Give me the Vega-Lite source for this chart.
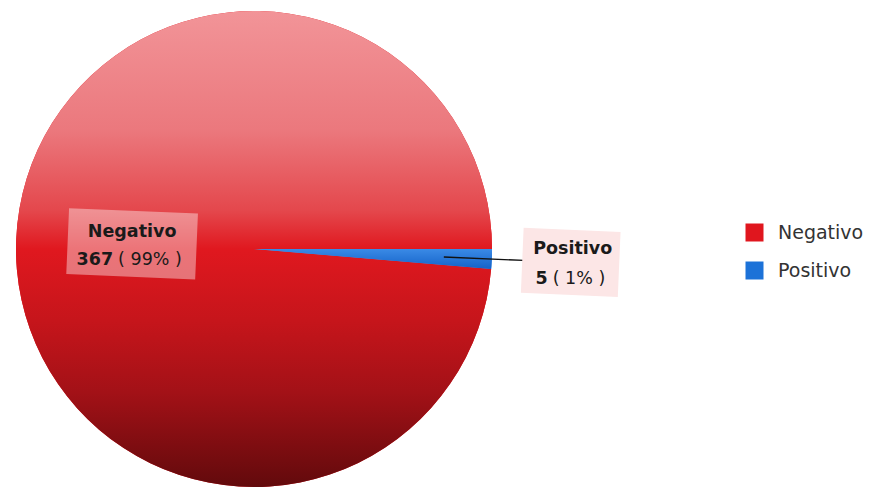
{
  "$schema": "https://vega.github.io/schema/vega-lite/v6.json",
  "width": 508,
  "height": 498,
  "autosize": {"type": "none"},
  "padding": {"left": 0, "top": 0, "right": 368, "bottom": 0},
  "background": "white",
  "config": {
    "view": {"stroke": null},
    "legend": {
      "orient": "none",
      "legendX": 745,
      "legendY": 223,
      "symbolType": "square",
      "symbolSize": 324,
      "symbolStrokeWidth": 0,
      "labelFont": "DejaVu Sans",
      "labelFontSize": 19,
      "labelColor": "#333333",
      "rowPadding": 18,
      "labelOffset": 14
    }
  },
  "data": {
    "values": [
      {"cat": "Negativo", "value": 367, "pct": 99, "ord": 2},
      {"cat": "Positivo", "value": 5, "pct": 1, "ord": 1}
    ]
  },
  "transform": [
    {"stack": "value", "groupby": [], "sort": [{"field": "ord", "order": "ascending"}], "as": ["v0", "v1"]},
    {"calculate": "(datum.v0 + datum.v1) / 2", "as": "mid"},
    {"calculate": "'( ' + datum.pct + '% )'", "as": "pctLabel"}
  ],
  "resolve": {"scale": {"theta": "shared"}},
  "layer": [
    {
      "mark": {"type": "arc", "radius": 238},
      "encoding": {
        "theta": {"field": "v0", "type": "quantitative", "stack": null, "scale": {"domain": [0, 372], "range": [1.5707963, 7.8539816]}},
        "theta2": {"field": "v1"},
        "color": {
          "field": "cat", "type": "nominal",
          "scale": {"domain": ["Negativo", "Positivo"], "range": ["#E0161E", "#1C72D8"]},
          "legend": {"title": null}
        }
      }
    },
    {
      "mark": {"type": "arc", "radius": 238},
      "encoding": {
        "theta": {"field": "v0", "type": "quantitative", "stack": null, "scale": {"domain": [0, 372], "range": [1.5707963, 7.8539816]}},
        "theta2": {"field": "v1"},
        "fill": {
          "condition": {
            "test": "datum.cat === 'Negativo'",
            "value": {
              "gradient": "linear", "x1": 0, "y1": 0, "x2": 0, "y2": 1,
              "stops": [
                {"offset": 0, "color": "#F29498"},
                {"offset": 0.25, "color": "#EB787D"},
                {"offset": 0.42, "color": "#E4474C"},
                {"offset": 0.5, "color": "#E0181F"},
                {"offset": 0.65, "color": "#C6151B"},
                {"offset": 0.8, "color": "#A31117"},
                {"offset": 1, "color": "#620A0C"}
              ]
            }
          },
          "value": {
            "gradient": "linear", "x1": 0, "y1": 0, "x2": 0, "y2": 1,
            "stops": [
              {"offset": 0, "color": "#3A8AE6"},
              {"offset": 1, "color": "#1462C8"}
            ]
          }
        }
      }
    },
    {
      "transform": [{"filter": "datum.cat === 'Positivo'"}],
      "mark": {"type": "arc", "radius": 270, "radius2": 190, "filled": false, "stroke": "#111111", "strokeWidth": 1.3},
      "encoding": {
        "theta": {"field": "mid", "type": "quantitative", "stack": null, "scale": {"domain": [0, 372], "range": [1.5707963, 7.8539816]}},
        "theta2": {"field": "mid"}
      }
    },
    {
      "transform": [{"filter": "datum.cat === 'Negativo'"}],
      "mark": {"type": "arc", "radius": 186.5, "radius2": 57.5, "filled": false, "stroke": "#FFFFFF", "strokeOpacity": 0.4, "strokeWidth": 66, "strokeJoin": "bevel"},
      "encoding": {
        "theta": {"field": "mid", "type": "quantitative", "stack": null, "scale": {"domain": [0, 372], "range": [1.5707963, 7.8539816]}},
        "theta2": {"field": "mid"}
      }
    },
    {
      "transform": [{"filter": "datum.cat === 'Positivo'"}],
      "mark": {"type": "arc", "radius": 365.5, "radius2": 268.5, "filled": false, "stroke": "#FCE6E6", "strokeWidth": 65, "strokeJoin": "bevel"},
      "encoding": {
        "theta": {"field": "mid", "type": "quantitative", "stack": null, "scale": {"domain": [0, 372], "range": [1.5707963, 7.8539816]}},
        "theta2": {"field": "mid"}
      }
    },
    {
      "transform": [{"filter": "datum.cat === 'Negativo'"}],
      "mark": {"type": "text", "radius": 122, "font": "DejaVu Sans", "fontWeight": "bold", "fontSize": 17.5, "color": "#1A1A1A", "align": "center", "baseline": "alphabetic", "dx": 0, "dy": -7},
      "encoding": {
        "theta": {"field": "mid", "type": "quantitative", "stack": null, "scale": {"domain": [0, 372], "range": [1.5707963, 7.8539816]}},
        "text": {"field": "cat"}
      }
    },
    {
      "transform": [{"filter": "datum.cat === 'Negativo'"}],
      "mark": {"type": "text", "radius": 122, "font": "DejaVu Sans", "fontWeight": "bold", "fontSize": 17.5, "color": "#1A1A1A", "align": "right", "baseline": "alphabetic", "dx": -19, "dy": 21},
      "encoding": {
        "theta": {"field": "mid", "type": "quantitative", "stack": null, "scale": {"domain": [0, 372], "range": [1.5707963, 7.8539816]}},
        "text": {"field": "value"}
      }
    },
    {
      "transform": [{"filter": "datum.cat === 'Negativo'"}],
      "mark": {"type": "text", "radius": 122, "font": "DejaVu Sans", "fontSize": 17.5, "color": "#1A1A1A", "align": "left", "baseline": "alphabetic", "dx": -14, "dy": 21},
      "encoding": {
        "theta": {"field": "mid", "type": "quantitative", "stack": null, "scale": {"domain": [0, 372], "range": [1.5707963, 7.8539816]}},
        "text": {"field": "pctLabel"}
      }
    },
    {
      "transform": [{"filter": "datum.cat === 'Positivo'"}],
      "mark": {"type": "text", "radius": 317, "font": "DejaVu Sans", "fontWeight": "bold", "fontSize": 17.5, "color": "#1A1A1A", "align": "center", "baseline": "alphabetic", "dx": 2, "dy": -8},
      "encoding": {
        "theta": {"field": "mid", "type": "quantitative", "stack": null, "scale": {"domain": [0, 372], "range": [1.5707963, 7.8539816]}},
        "text": {"field": "cat"}
      }
    },
    {
      "transform": [{"filter": "datum.cat === 'Positivo'"}],
      "mark": {"type": "text", "radius": 317, "font": "DejaVu Sans", "fontWeight": "bold", "fontSize": 17.5, "color": "#1A1A1A", "align": "right", "baseline": "alphabetic", "dx": -23, "dy": 22},
      "encoding": {
        "theta": {"field": "mid", "type": "quantitative", "stack": null, "scale": {"domain": [0, 372], "range": [1.5707963, 7.8539816]}},
        "text": {"field": "value"}
      }
    },
    {
      "transform": [{"filter": "datum.cat === 'Positivo'"}],
      "mark": {"type": "text", "radius": 317, "font": "DejaVu Sans", "fontSize": 17.5, "color": "#1A1A1A", "align": "left", "baseline": "alphabetic", "dx": -18, "dy": 22},
      "encoding": {
        "theta": {"field": "mid", "type": "quantitative", "stack": null, "scale": {"domain": [0, 372], "range": [1.5707963, 7.8539816]}},
        "text": {"field": "pctLabel"}
      }
    }
  ]
}
